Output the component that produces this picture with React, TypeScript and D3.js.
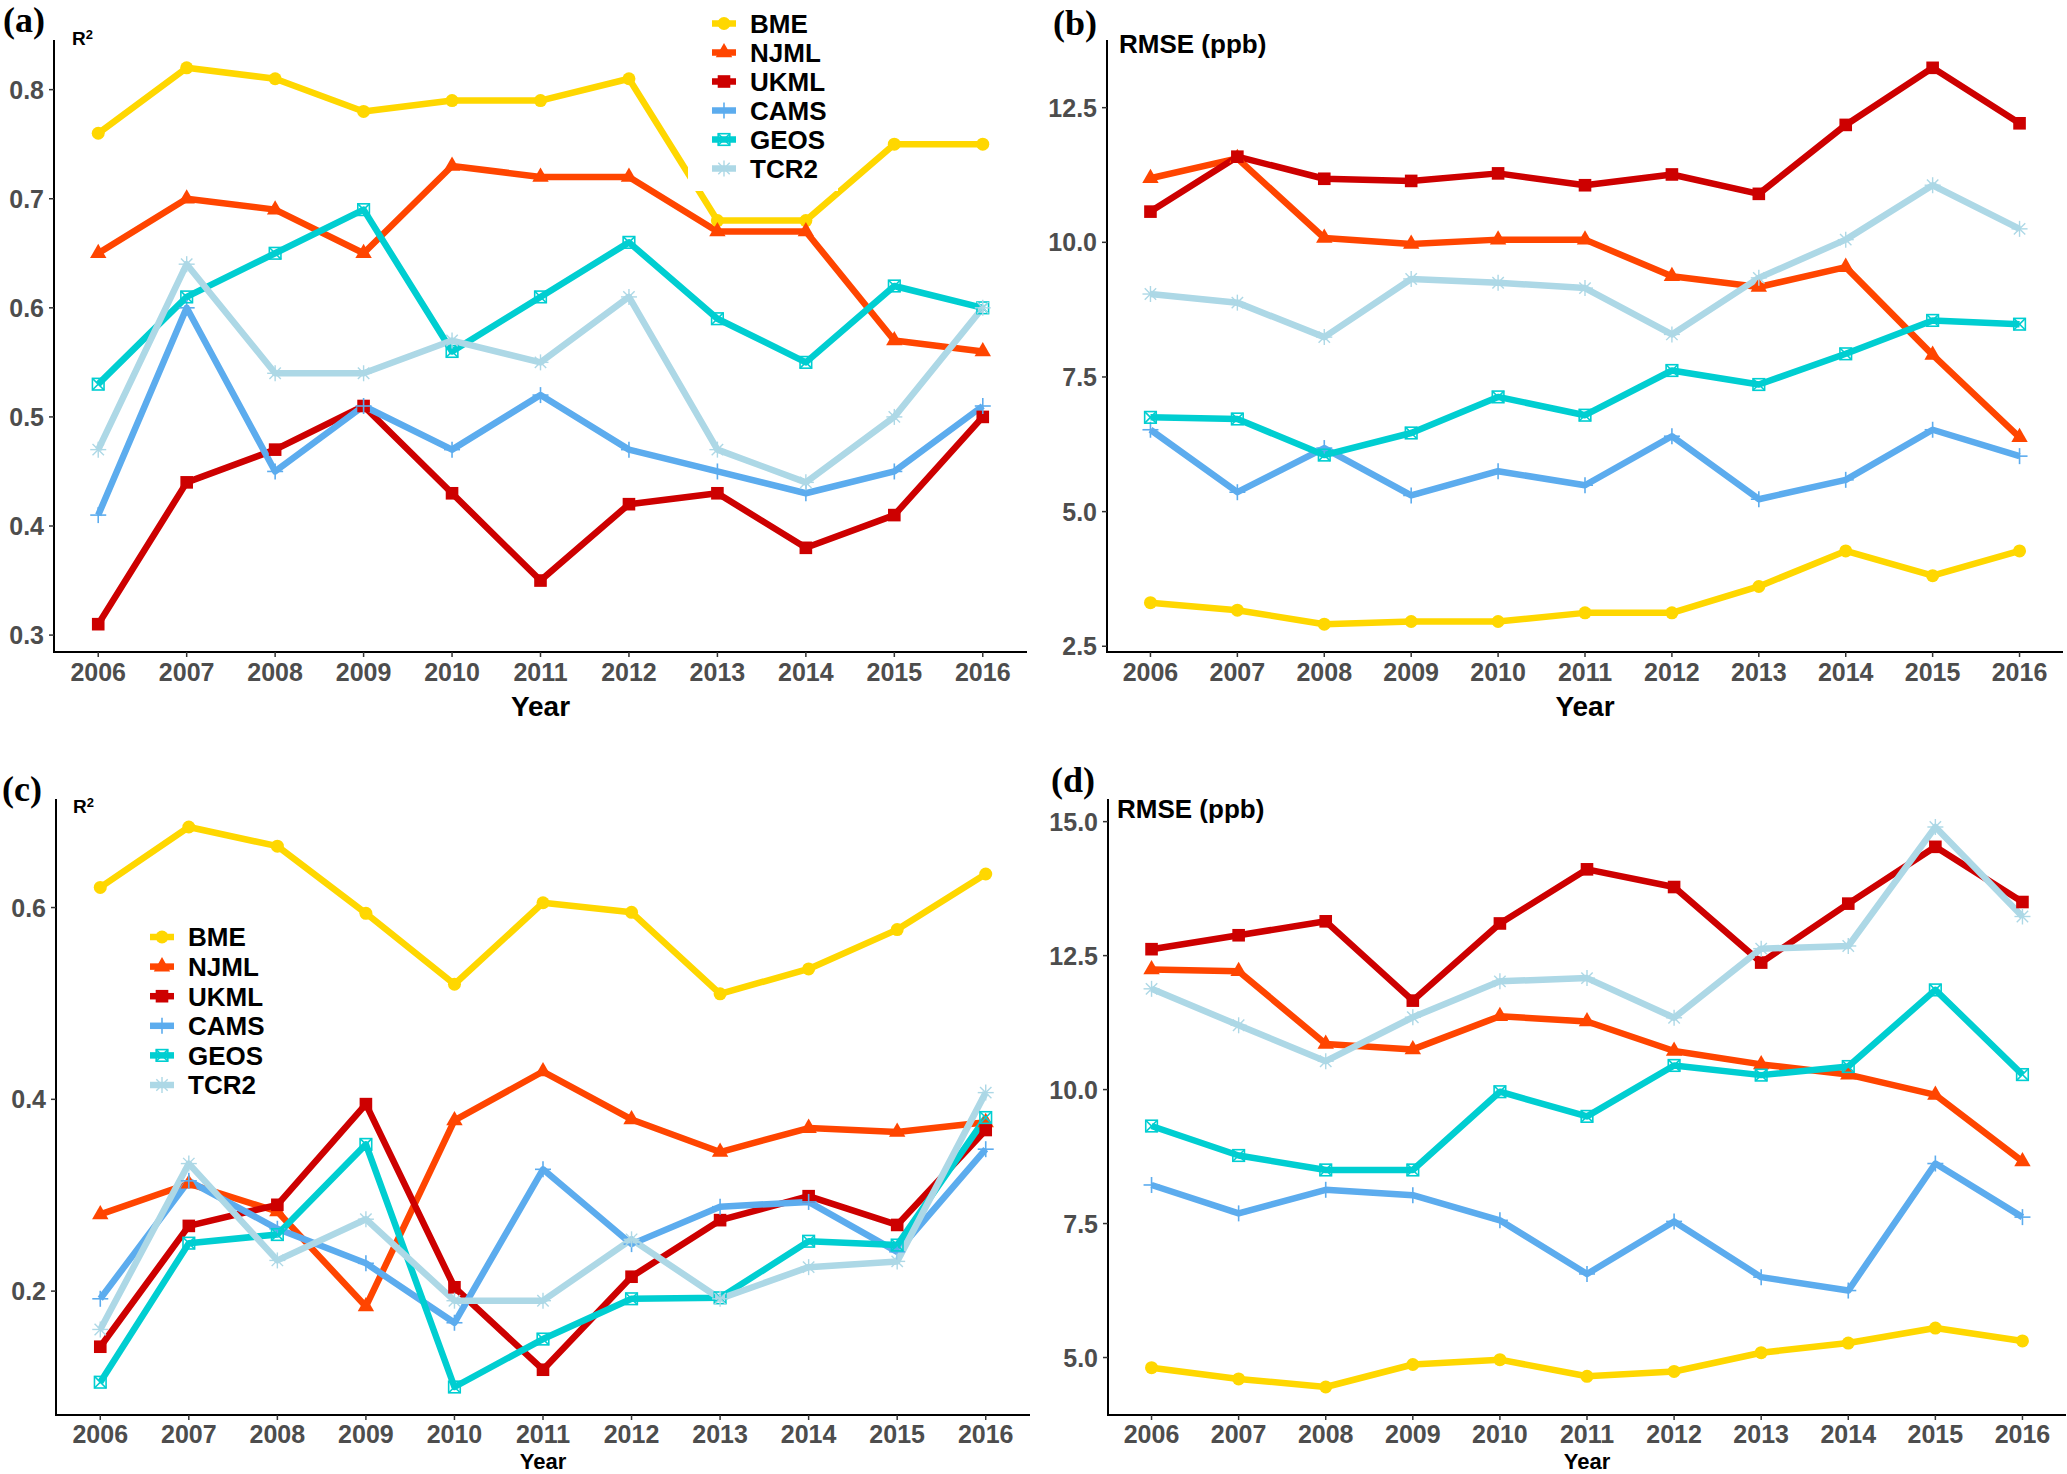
import React from "react";
import * as d3 from "d3";

const years = [2006, 2007, 2008, 2009, 2010, 2011, 2012, 2013, 2014, 2015, 2016];
const seriesNames = ["BME", "NJML", "UKML", "CAMS", "GEOS", "TCR2"];
const seriesColors = ["#FFD700", "#FF4500", "#CD0000", "#5CACEE", "#00CED1", "#ADD8E6"];
const seriesShapes = ["circle", "triangle", "square", "plus", "squarex", "asterisk"];

// Panel (a): R² (2006–2016)
const aBME = [0.76, 0.82, 0.81, 0.78, 0.79, 0.79, 0.81, 0.68, 0.68, 0.75, 0.75];
const aNJML = [0.65, 0.70, 0.69, 0.65, 0.73, 0.72, 0.72, 0.67, 0.67, 0.57, 0.56];
const aUKML = [0.31, 0.44, 0.47, 0.51, 0.43, 0.35, 0.42, 0.43, 0.38, 0.41, 0.50];
const aCAMS = [0.41, 0.60, 0.45, 0.51, 0.47, 0.52, 0.47, 0.45, 0.43, 0.45, 0.51];
const aGEOS = [0.53, 0.61, 0.65, 0.69, 0.56, 0.61, 0.66, 0.59, 0.55, 0.62, 0.60];
const aTCR2 = [0.47, 0.64, 0.54, 0.54, 0.57, 0.55, 0.61, 0.47, 0.44, 0.50, 0.60];
const aTicks = [0.3, 0.4, 0.5, 0.6, 0.7, 0.8];

// Panel (b): RMSE (ppb)
const bBME = [3.31, 3.17, 2.91, 2.96, 2.96, 3.12, 3.12, 3.61, 4.27, 3.81, 4.27];
const bNJML = [11.19, 11.56, 10.08, 9.97, 10.05, 10.05, 9.37, 9.17, 9.54, 7.91, 6.38];
const bUKML = [10.57, 11.59, 11.18, 11.14, 11.28, 11.06, 11.26, 10.90, 12.18, 13.24, 12.21];
const bCAMS = [6.52, 5.36, 6.18, 5.30, 5.75, 5.49, 6.40, 5.23, 5.59, 6.52, 6.03];
const bGEOS = [6.75, 6.72, 6.05, 6.46, 7.13, 6.79, 7.62, 7.36, 7.93, 8.55, 8.48];
const bTCR2 = [9.04, 8.88, 8.24, 9.32, 9.25, 9.15, 8.29, 9.34, 10.05, 11.06, 10.25];
const bTicks = [2.5, 5.0, 7.5, 10.0, 12.5];

// Panel (c): R²
const cBME = [0.621, 0.684, 0.664, 0.594, 0.520, 0.605, 0.595, 0.510, 0.536, 0.577, 0.635];
const cNJML = [0.280, 0.312, 0.283, 0.184, 0.378, 0.429, 0.379, 0.345, 0.370, 0.366, 0.376];
const cUKML = [0.142, 0.268, 0.290, 0.395, 0.204, 0.118, 0.215, 0.274, 0.299, 0.269, 0.368];
const cCAMS = [0.192, 0.315, 0.265, 0.229, 0.167, 0.327, 0.249, 0.288, 0.293, 0.241, 0.348];
const cGEOS = [0.105, 0.250, 0.259, 0.353, 0.100, 0.150, 0.192, 0.193, 0.252, 0.248, 0.381];
const cTCR2 = [0.160, 0.333, 0.232, 0.275, 0.190, 0.190, 0.254, 0.192, 0.225, 0.231, 0.407];
const cTicks = [0.2, 0.4, 0.6];

// Panel (d): RMSE (ppb)
const dBME = [4.81, 4.60, 4.45, 4.87, 4.96, 4.65, 4.74, 5.09, 5.27, 5.55, 5.31];
const dNJML = [12.24, 12.21, 10.85, 10.75, 11.37, 11.27, 10.72, 10.47, 10.28, 9.90, 8.66];
const dUKML = [12.62, 12.88, 13.14, 11.66, 13.10, 14.11, 13.78, 12.37, 13.47, 14.53, 13.50];
const dCAMS = [8.22, 7.69, 8.13, 8.03, 7.56, 6.56, 7.54, 6.50, 6.25, 8.62, 7.62];
const dGEOS = [9.32, 8.77, 8.50, 8.50, 9.96, 9.50, 10.45, 10.27, 10.43, 11.86, 10.28];
const dTCR2 = [11.88, 11.20, 10.53, 11.35, 12.02, 12.08, 11.34, 12.63, 12.68, 14.90, 13.23];
const dTicks = [5.0, 7.5, 10.0, 12.5, 15.0];

const SANS = "'Liberation Sans', Arial, sans-serif";
const SERIF = "'Liberation Serif', 'Times New Roman', serif";

type Panel = {
  tag: string;
  tagX: number;
  tagY: number;
  title: "R2" | "RMSE";
  titleX: number;
  titleY: number;
  left: number;
  right: number;
  top: number;
  bottom: number;
  xLabelDy: number;
  yearTitleY: number;
  yearTitleSize: number;
  series: number[][];
  ticks: number[];
  legend?: { x: number; y0: number; step: number; box: [number, number, number, number] };
};

const panels: Panel[] = [
  {
    tag: "(a)", tagX: 3, tagY: 32, title: "R2", titleX: 72, titleY: 45,
    left: 54, right: 1027, top: 40, bottom: 652, xLabelDy: 29, yearTitleY: 716, yearTitleSize: 28,
    series: [aBME, aNJML, aUKML, aCAMS, aGEOS, aTCR2], ticks: aTicks,
    legend: { x: 724, y0: 23.5, step: 29, box: [688, 0, 150, 191] },
  },
  {
    tag: "(b)", tagX: 1053, tagY: 35, title: "RMSE", titleX: 1119, titleY: 53,
    left: 1107, right: 2063, top: 40, bottom: 652, xLabelDy: 29, yearTitleY: 716, yearTitleSize: 28,
    series: [bBME, bNJML, bUKML, bCAMS, bGEOS, bTCR2], ticks: bTicks,
  },
  {
    tag: "(c)", tagX: 2, tagY: 801, title: "R2", titleX: 73, titleY: 813,
    left: 56, right: 1030, top: 799, bottom: 1415, xLabelDy: 28, yearTitleY: 1469, yearTitleSize: 22,
    series: [cBME, cNJML, cUKML, cCAMS, cGEOS, cTCR2], ticks: cTicks,
    legend: { x: 162, y0: 937, step: 29.6, box: [140, 915, 140, 190] },
  },
  {
    tag: "(d)", tagX: 1051, tagY: 792, title: "RMSE", titleX: 1117, titleY: 818,
    left: 1108, right: 2066, top: 799, bottom: 1415, xLabelDy: 28, yearTitleY: 1469, yearTitleSize: 22,
    series: [dBME, dNJML, dUKML, dCAMS, dGEOS, dTCR2], ticks: dTicks,
  },
];

function Marker({ shape, x, y, color }: { shape: string; x: number; y: number; color: string }) {
  const sw = 1.6;
  switch (shape) {
    case "circle":
      return <circle cx={x} cy={y} r={6.5} fill={color} />;
    case "triangle":
      return <polygon points={`${x},${y - 9.5} ${x + 8.2},${y + 4.8} ${x - 8.2},${y + 4.8}`} fill={color} />;
    case "square":
      return <rect x={x - 6.3} y={y - 6.3} width={12.6} height={12.6} fill={color} />;
    case "plus":
      return (
        <g stroke={color} strokeWidth={sw}>
          <line x1={x - 8} y1={y} x2={x + 8} y2={y} />
          <line x1={x} y1={y - 8} x2={x} y2={y + 8} />
        </g>
      );
    case "squarex":
      return (
        <g stroke={color} strokeWidth={sw} fill="none">
          <rect x={x - 5.8} y={y - 5.8} width={11.6} height={11.6} />
          <line x1={x - 5.8} y1={y - 5.8} x2={x + 5.8} y2={y + 5.8} />
          <line x1={x - 5.8} y1={y + 5.8} x2={x + 5.8} y2={y - 5.8} />
        </g>
      );
    case "asterisk":
      return (
        <g stroke={color} strokeWidth={1.4}>
          <line x1={x - 8} y1={y} x2={x + 8} y2={y} />
          <line x1={x} y1={y - 8} x2={x} y2={y + 8} />
          <line x1={x - 5.7} y1={y - 5.7} x2={x + 5.7} y2={y + 5.7} />
          <line x1={x - 5.7} y1={y + 5.7} x2={x + 5.7} y2={y - 5.7} />
        </g>
      );
    default:
      return null;
  }
}

function PanelView({ p }: { p: Panel }) {
  const all = p.series.flat();
  const [mn, mx] = d3.extent(all) as [number, number];
  const pad = (mx - mn) * 0.05;
  const y = d3.scaleLinear().domain([mn - pad, mx + pad]).range([p.bottom, p.top]);
  const x = d3.scaleLinear().domain([years[0] - 0.5, years[years.length - 1] + 0.5]).range([p.left, p.right]);
  const line = d3
    .line<number>()
    .x((_, i) => x(years[i]))
    .y((v) => y(v));
  const fmt = d3.format(".1f");
  const tickColor = "#4D4D4D";

  return (
    <g>
      {p.series.map((s, si) => (
        <path
          key={"l" + si}
          d={line(s) || ""}
          fill="none"
          stroke={seriesColors[si]}
          strokeWidth={6.5}
          strokeLinejoin="round"
        />
      ))}
      {p.series.map((s, si) =>
        s.map((v, i) => (
          <Marker key={"m" + si + "_" + i} shape={seriesShapes[si]} x={x(years[i])} y={y(v)} color={seriesColors[si]} />
        ))
      )}
      <line x1={p.left} y1={p.top} x2={p.left} y2={p.bottom + 1} stroke="black" strokeWidth={2} />
      <line x1={p.left - 1} y1={p.bottom} x2={p.right} y2={p.bottom} stroke="black" strokeWidth={2} />
      {p.ticks.map((t) => (
        <g key={"yt" + t}>
          <line x1={p.left - 5} y1={y(t)} x2={p.left} y2={y(t)} stroke="#333" strokeWidth={1.5} />
          <text
            x={p.left - 10}
            y={y(t)}
            dy="0.36em"
            textAnchor="end"
            fontFamily={SANS}
            fontWeight="bold"
            fontSize={25}
            fill={tickColor}
          >
            {fmt(t)}
          </text>
        </g>
      ))}
      {years.map((yr) => (
        <g key={"xt" + yr}>
          <line x1={x(yr)} y1={p.bottom} x2={x(yr)} y2={p.bottom + 5} stroke="#333" strokeWidth={1.5} />
          <text
            x={x(yr)}
            y={p.bottom + p.xLabelDy}
            textAnchor="middle"
            fontFamily={SANS}
            fontWeight="bold"
            fontSize={25}
            fill={tickColor}
          >
            {yr}
          </text>
        </g>
      ))}
      <text
        x={(p.left + p.right) / 2}
        y={p.yearTitleY}
        textAnchor="middle"
        fontFamily={SANS}
        fontWeight="bold"
        fontSize={p.yearTitleSize}
        fill="black"
      >
        Year
      </text>
      <text x={p.tagX} y={p.tagY} fontFamily={SERIF} fontWeight="bold" fontSize={36} fill="black">
        {p.tag}
      </text>
      {p.title === "R2" ? (
        <text x={p.titleX} y={p.titleY} fontFamily={SANS} fontWeight="bold" fontSize={19} fill="black">
          R<tspan fontSize={13} dy={-6}>2</tspan>
        </text>
      ) : (
        <text x={p.titleX} y={p.titleY} fontFamily={SANS} fontWeight="bold" fontSize={26} fill="black">
          RMSE (ppb)
        </text>
      )}
      {p.legend && (
        <g>
          <rect x={p.legend.box[0]} y={p.legend.box[1]} width={p.legend.box[2]} height={p.legend.box[3]} fill="white" />
          {seriesNames.map((nm, si) => {
            const ly = p.legend!.y0 + si * p.legend!.step;
            const lx = p.legend!.x;
            return (
              <g key={"lg" + nm}>
                <line x1={lx - 12} y1={ly} x2={lx + 12} y2={ly} stroke={seriesColors[si]} strokeWidth={6.5} />
                <Marker shape={seriesShapes[si]} x={lx} y={ly} color={seriesColors[si]} />
                <text
                  x={lx + 26}
                  y={ly}
                  dy="0.36em"
                  fontFamily={SANS}
                  fontWeight="bold"
                  fontSize={26}
                  fill="black"
                >
                  {nm}
                </text>
              </g>
            );
          })}
        </g>
      )}
    </g>
  );
}

export default function App() {
  return (
    <svg
      width={2067}
      height={1474}
      viewBox="0 0 2067 1474"
      style={{ position: "absolute", left: 0, top: 0, background: "white" }}
    >
      <rect x={0} y={0} width={2067} height={1474} fill="white" />
      {panels.map((p) => (
        <PanelView key={p.tag} p={p} />
      ))}
    </svg>
  );
}
